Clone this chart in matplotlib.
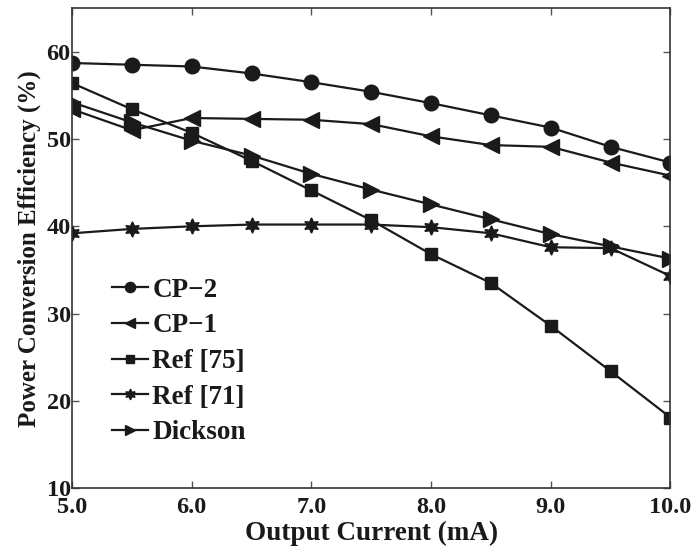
import matplotlib
matplotlib.use("Agg")
import matplotlib.pyplot as plt

plt.rcParams['font.family'] = ['Liberation Serif', 'DejaVu Serif']
plt.rcParams['font.weight'] = 'bold'

current_ma = [5.0, 5.5, 6.0, 6.5, 7.0, 7.5, 8.0, 8.5, 9.0, 9.5, 10.0]

cp2 = [58.7, 58.5, 58.3, 57.5, 56.5, 55.4, 54.1, 52.7, 51.3, 49.1, 47.3]
cp1 = [53.4, 51.0, 52.4, 52.3, 52.2, 51.7, 50.3, 49.3, 49.1, 47.3, 45.8]
ref75 = [56.4, 53.4, 50.7, 47.5, 44.1, 40.7, 36.8, 33.5, 28.6, 23.4, 18.1]
ref71 = [39.2, 39.7, 40.0, 40.2, 40.2, 40.2, 39.9, 39.2, 37.6, 37.5, 34.3]
dickson = [54.2, 51.9, 49.8, 48.1, 46.0, 44.2, 42.5, 40.8, 39.1, 37.7, 36.3]

xticks = [5.0, 6.0, 7.0, 8.0, 9.0, 10.0]
xtick_labels = ['5.0', '6.0', '7.0', '8.0', '9.0', '10.0']
yticks = [10, 20, 30, 40, 50, 60]

fig = plt.figure(figsize=(6.98, 5.54), dpi=100)
ax = fig.add_axes([0.1032, 0.1186, 0.8574, 0.8670])

color = '#1a1a1a'
lw = 1.6
hexagram = (6, 1, 0)

ax.plot(current_ma, cp2, '-', color=color, lw=lw, marker='o', ms=10.5, label='CP\u22122')
ax.plot(current_ma, cp1, '-', color=color, lw=lw, marker='<', ms=11, label='CP\u22121')
ax.plot(current_ma, ref75, '-', color=color, lw=lw, marker='s', ms=8, label='Ref [75]')
ax.plot(current_ma, ref71, '-', color=color, lw=lw, marker=hexagram, ms=11, label='Ref [71]')
ax.plot(current_ma, dickson, '-', color=color, lw=lw, marker='>', ms=11, label='Dickson')

ax.set_xlim(5.0, 10.0)
ax.set_ylim(10, 65)
ax.set_xticks(xticks)
ax.set_xticklabels(xtick_labels)
ax.set_yticks(yticks)

ax.tick_params(direction='in', length=5, width=1, colors='#555555',
               top=True, right=True, labelsize=17.5)
ax.tick_params(axis='x', pad=6)
ax.tick_params(axis='y', pad=1)
for lab in ax.get_xticklabels() + ax.get_yticklabels():
    lab.set_color('#1a1a1a')
    lab.set_fontweight('bold')
for sp in ax.spines.values():
    sp.set_linewidth(1.2)
    sp.set_color('#333333')

ax.set_xlabel('Output Current (mA)', fontsize=19.5, fontweight='bold', color='#1a1a1a', labelpad=2)
ax.set_ylabel('Power Conversion Efficiency (%)', fontsize=18, fontweight='bold', color='#1a1a1a', labelpad=4)

leg = ax.legend(loc='upper left', bbox_to_anchor=(0.066, 0.438), frameon=False,
                fontsize=19.5, handlelength=1.35, handletextpad=0.15,
                labelspacing=0.39, markerscale=0.7, borderpad=0, borderaxespad=0)
for t in leg.get_texts():
    t.set_fontweight('bold')
    t.set_color('#1a1a1a')

fig.savefig('out.png', dpi=100)
